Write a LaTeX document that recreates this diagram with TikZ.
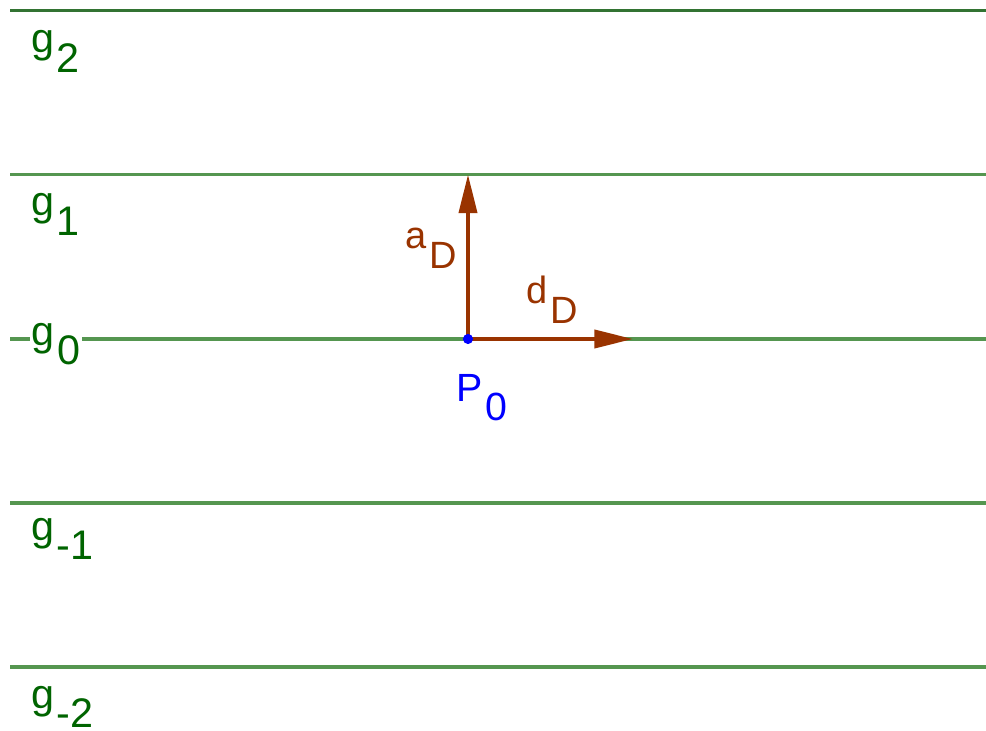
\documentclass[tikz,border=0pt]{standalone}
\usepackage{fontspec}
\setmainfont{Liberation Sans}
\usetikzlibrary{arrows.meta}
\definecolor{gline}{RGB}{85,150,80}
\definecolor{gtop}{RGB}{50,115,50}
\definecolor{glbl}{RGB}{0,100,0}
\definecolor{brn}{RGB}{153,51,0}
\newcommand{\sublbl}[2]{#1\hspace{2pt}\raisebox{-14.5pt}{#2}}
\begin{document}
\begin{tikzpicture}[x=0.75pt,y=-0.75pt,
  gridline/.style={draw=gline,line width=2.3pt},
  glabel/.style={text=glbl,font=\fontsize{31}{34}\selectfont,inner sep=0pt,anchor=base west},
  plabel/.style={text=blue,font=\fontsize{29.5}{32}\selectfont,inner sep=0pt,anchor=base west},
  blabel/.style={text=brn,font=\fontsize{28.5}{30}\selectfont,inner sep=0pt,anchor=base west},
  vec/.style={draw=brn,line width=3pt,-{Triangle[length=29pt,width=13.5pt]}}]
\useasboundingbox (0,0) rectangle (986,731);
% grid lines
\coordinate (l2a) at (10,10.5);  \coordinate (l2b) at (986,10.5);
\coordinate (l1a) at (10,174.5); \coordinate (l1b) at (986,174.5);
\coordinate (l0a) at (10,339);   \coordinate (l0b) at (986,339);
\coordinate (lm1a) at (10,503);  \coordinate (lm1b) at (986,503);
\coordinate (lm2a) at (10,667);  \coordinate (lm2b) at (986,667);
\draw[draw=gtop,line width=2.6pt] (l2a) -- (l2b);
\draw[gridline] (l1a) -- (l1b);
\draw[gridline] (l0a) -- (l0b);
\draw[gridline] (lm1a) -- (lm1b);
\draw[gridline] (lm2a) -- (lm2b);
% labels
\node[glabel] (g2) at (31,53) {\sublbl{g}{2}};
\node[glabel] (g1) at (31,216) {\sublbl{g}{1}};
\node[glabel,fill=white,inner xsep=1pt] (g0) at (30,345) {\sublbl{g}{0}};
\node[glabel] (gm1) at (31,540) {\sublbl{g}{-1}};
\node[glabel] (gm2) at (31,708) {\sublbl{g}{-2}};
% point and vectors
\coordinate (P) at (468,339);
\coordinate (A) at (468,174.5);
\coordinate (Dd) at (633,339);
\draw[vec] (P) -- (A);
\draw[vec] (P) -- (Dd);
\fill[blue] (P) circle (3.8pt);
\node[plabel] (P0) at (456,401) {\sublbl{P}{0}};
\node[blabel] (aD) at (405,249) {\sublbl{a}{D}};
\node[blabel] (dD) at (526,304) {\sublbl{d}{D}};
\end{tikzpicture}
\end{document}
